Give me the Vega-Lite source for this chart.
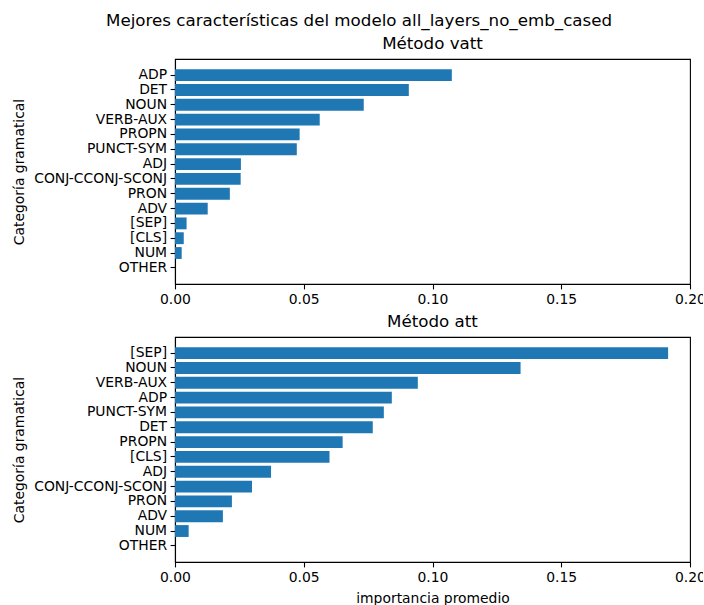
{
  "$schema": "https://vega.github.io/schema/vega-lite/v6.json",
  "padding": {"left": 12, "top": 13, "right": -4, "bottom": 2},
  "background": "white",
  "title": {"text": "Mejores características del modelo all_layers_no_emb_cased", "font": "DejaVu Sans", "fontSize": 16.7, "fontWeight": "normal", "color": "black", "anchor": "middle", "offset": 6},
  "config": {
    "font": "DejaVu Sans",
    "view": {"stroke": "black", "strokeWidth": 1.1},
    "axis": {"grid": false, "domainColor": "black", "tickColor": "black", "labelColor": "black", "titleColor": "black", "labelFont": "DejaVu Sans", "titleFont": "DejaVu Sans", "labelFontSize": 13.9, "titleFontSize": 13.9, "titleFontWeight": "normal", "tickSize": 4.9, "labelPadding": 3.5, "domainWidth": 1.1, "tickWidth": 1.1, "labelFlush": false},
    "title": {"font": "DejaVu Sans", "fontSize": 16.7, "fontWeight": "normal", "color": "black"}
  },
  "data": {"values": [
    {"metodo": "vatt", "categoria": "ADP", "importancia": 0.1075},
    {"metodo": "vatt", "categoria": "DET", "importancia": 0.0908},
    {"metodo": "vatt", "categoria": "NOUN", "importancia": 0.0733},
    {"metodo": "vatt", "categoria": "VERB-AUX", "importancia": 0.0562},
    {"metodo": "vatt", "categoria": "PROPN", "importancia": 0.0484},
    {"metodo": "vatt", "categoria": "PUNCT-SYM", "importancia": 0.0473},
    {"metodo": "vatt", "categoria": "ADJ", "importancia": 0.0256},
    {"metodo": "vatt", "categoria": "CONJ-CCONJ-SCONJ", "importancia": 0.0255},
    {"metodo": "vatt", "categoria": "PRON", "importancia": 0.0213},
    {"metodo": "vatt", "categoria": "ADV", "importancia": 0.0127},
    {"metodo": "vatt", "categoria": "[SEP]", "importancia": 0.0045},
    {"metodo": "vatt", "categoria": "[CLS]", "importancia": 0.0034},
    {"metodo": "vatt", "categoria": "NUM", "importancia": 0.0026},
    {"metodo": "vatt", "categoria": "OTHER", "importancia": 0.0},
    {"metodo": "att", "categoria": "[SEP]", "importancia": 0.1915},
    {"metodo": "att", "categoria": "NOUN", "importancia": 0.1342},
    {"metodo": "att", "categoria": "VERB-AUX", "importancia": 0.0943},
    {"metodo": "att", "categoria": "ADP", "importancia": 0.0842},
    {"metodo": "att", "categoria": "PUNCT-SYM", "importancia": 0.0811},
    {"metodo": "att", "categoria": "DET", "importancia": 0.0768},
    {"metodo": "att", "categoria": "PROPN", "importancia": 0.0651},
    {"metodo": "att", "categoria": "[CLS]", "importancia": 0.06},
    {"metodo": "att", "categoria": "ADJ", "importancia": 0.0373},
    {"metodo": "att", "categoria": "CONJ-CCONJ-SCONJ", "importancia": 0.0299},
    {"metodo": "att", "categoria": "PRON", "importancia": 0.0221},
    {"metodo": "att", "categoria": "ADV", "importancia": 0.0186},
    {"metodo": "att", "categoria": "NUM", "importancia": 0.0053},
    {"metodo": "att", "categoria": "OTHER", "importancia": 0.0}
  ]},
  "spacing": 6,
  "vconcat": [
    {
      "title": {"text": "Método vatt", "anchor": "middle", "frame": "group", "offset": 6},
      "width": 515,
      "height": 225,
      "transform": [{"filter": "datum.metodo === 'vatt'"}],
      "mark": {"type": "bar", "color": "#1f77b4"},
      "encoding": {
        "y": {"field": "categoria", "type": "nominal", "sort": null, "scale": {"paddingInner": 0.2, "paddingOuter": 0.69}, "axis": {"title": "Categoría gramatical", "titlePadding": 7}},
        "x": {"field": "importancia", "type": "quantitative", "scale": {"domain": [0, 0.2], "nice": false}, "axis": {"title": null, "values": [0, 0.05, 0.1, 0.15, 0.2], "format": ".2f"}}
      }
    },
    {
      "title": {"text": "Método att", "anchor": "middle", "frame": "group", "offset": 6},
      "width": 515,
      "height": 225,
      "transform": [{"filter": "datum.metodo === 'att'"}],
      "mark": {"type": "bar", "color": "#1f77b4"},
      "encoding": {
        "y": {"field": "categoria", "type": "nominal", "sort": null, "scale": {"paddingInner": 0.2, "paddingOuter": 0.69}, "axis": {"title": "Categoría gramatical", "titlePadding": 7}},
        "x": {"field": "importancia", "type": "quantitative", "scale": {"domain": [0, 0.2], "nice": false}, "axis": {"title": "importancia promedio", "values": [0, 0.05, 0.1, 0.15, 0.2], "format": ".2f", "titlePadding": 7}}
      }
    }
  ]
}
